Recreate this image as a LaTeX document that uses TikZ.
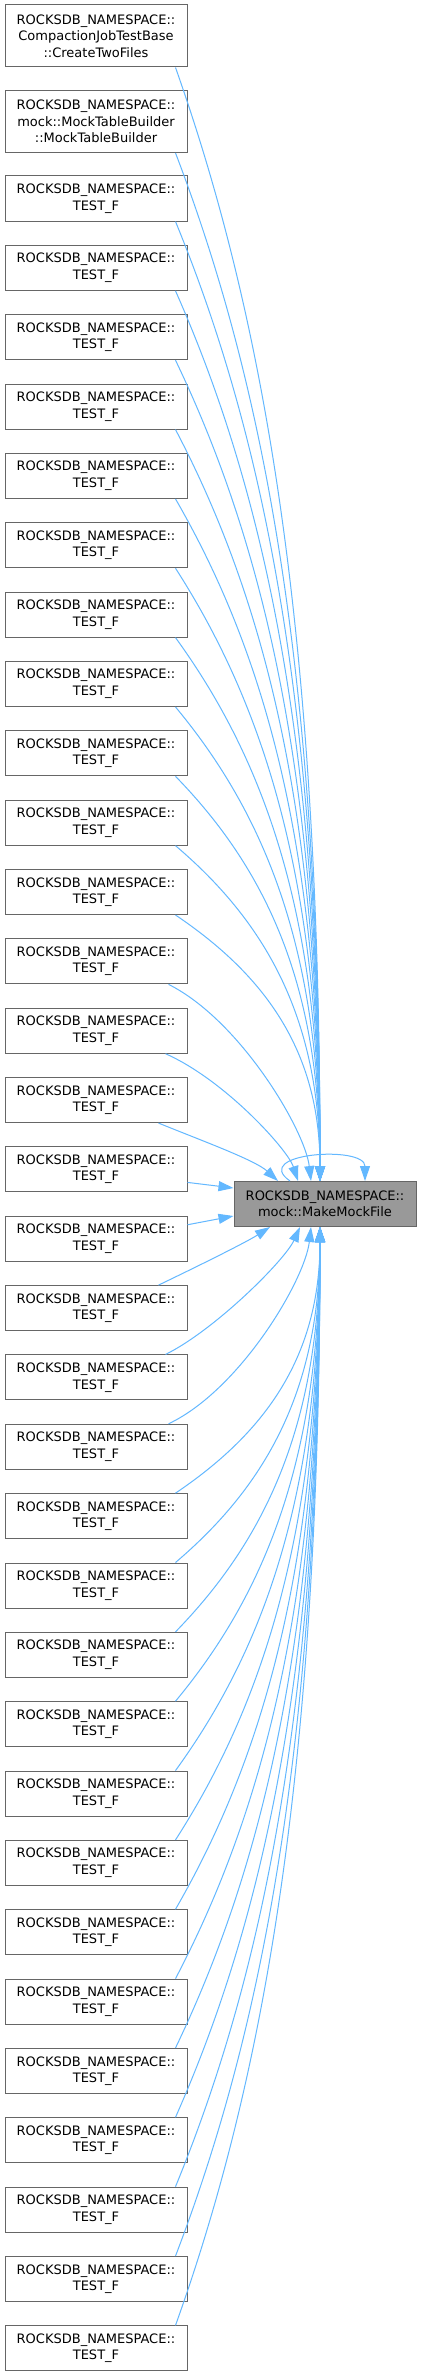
\documentclass[tikz,border=0pt]{standalone}
\usepackage{fontspec}
\setmainfont{DejaVu Sans}
\usetikzlibrary{arrows.meta,calc}
\definecolor{edgec}{HTML}{63B8FF}
\definecolor{bord}{HTML}{666666}
\definecolor{mainfill}{HTML}{999999}
\begin{document}
\begin{tikzpicture}[x=1pt,y=-1pt,
  fn/.style={draw=bord, line width=1pt, fill=white, minimum width=182pt, inner sep=0pt,
    align=center, font=\fontsize{13pt}{16.5pt}\selectfont, text=black},
  twoline/.style={minimum height=45pt},
  threeline/.style={minimum height=62pt},
  edge/.style={draw=edgec, line width=1pt, -{Triangle[length=15pt,width=10pt]}}]
\fill[white] (0,0) rectangle (421,2376);
\useasboundingbox (0,0) rectangle (421,2376);

\node[fn,threeline] (a) at (96,36) {ROCKSDB\_NAMESPACE::\\CompactionJobTestBase\\::CreateTwoFiles};
\node[fn,threeline] (b) at (96,121.5) {ROCKSDB\_NAMESPACE::\\mock::MockTableBuilder\\::MockTableBuilder};
\foreach \k in {0,...,31} {
  \pgfmathsetmacro\yy{198.5+69.35*\k}
  \node[fn,twoline] (t\k) at (96,\yy) {ROCKSDB\_NAMESPACE::\\TEST\_F};
}
\node[fn,twoline,fill=mainfill] (m) at (325,1204) {ROCKSDB\_NAMESPACE::\\mock::MakeMockFile};

% far edges from above
\foreach \s/\ys in {a/67,b/152.5} {
  \pgfmathsetmacro\ca{\ys+0.22*(1182-\ys)}
  \pgfmathsetmacro\cb{1182-0.5*(1182-\ys)}
  \draw[edge] ($(\s.south east)+(-12,0)$) .. controls (262,\ca) and (320,\cb) .. ($(m.north)+(-5,0)$);
}
\foreach \k in {0,...,10} {
  \pgfmathsetmacro\ys{221+69.35*\k}
  \pgfmathsetmacro\ca{\ys+0.22*(1182-\ys)}
  \pgfmathsetmacro\cb{1182-0.5*(1182-\ys)}
  \draw[edge] ($(t\k.south east)+(-12,0)$) .. controls (262,\ca) and (320,\cb) .. ($(m.north)+(-5,0)$);
}
% far edges from below
\foreach \k in {19,...,31} {
  \pgfmathsetmacro\ys{176+69.35*\k}
  \pgfmathsetmacro\ca{\ys-0.22*(\ys-1226)}
  \pgfmathsetmacro\cb{1226+0.5*(\ys-1226)}
  \draw[edge] ($(t\k.north east)+(-12,0)$) .. controls (262,\ca) and (320,\cb) .. ($(m.south)+(-5,0)$);
}
% near edges
\draw[edge] ($(t11.south east)+(-19,0)$) .. controls (240,1020) and (305,1130) .. ($(m.north)+(-14,0)$);
\draw[edge] ($(t12.south east)+(-22,0)$) .. controls (225,1080) and (288,1150) .. ($(m.north)+(-27,0)$);
\draw[edge] ($(t13.south east)+(-29,0)$) .. controls (200,1140) and (255,1160) .. ($(m.north)+(-47,0)$);
\draw[edge] ($(t14.east)+(0,13)$) -- ($(m.west)+(0,-16)$);
\draw[edge] ($(t15.east)+(0,-14)$) -- ($(m.west)+(0,12)$);
\draw[edge] ($(t16.north east)+(-29,0)$) .. controls (190,1270) and (245,1243) .. ($(m.south)+(-55,0)$);
\draw[edge] ($(t17.north east)+(-22,0)$) .. controls (215,1330) and (285,1260) .. ($(m.south)+(-25,0)$);
\draw[edge] ($(t18.north east)+(-19,0)$) .. controls (240,1390) and (305,1280) .. ($(m.south)+(-14,0)$);
% self loop
\draw[edge] ($(m.north)+(-35,0)$) .. controls (250,1153) and (365,1145) .. ($(m.north)+(40,0)$);
\end{tikzpicture}
\end{document}
